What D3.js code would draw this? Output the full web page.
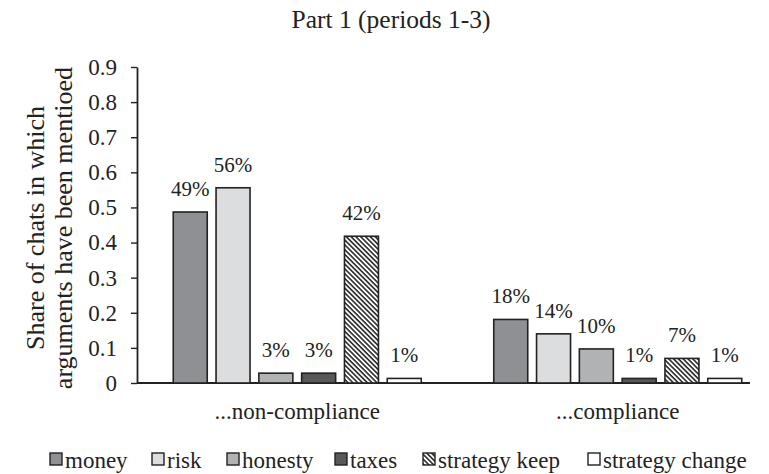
<!DOCTYPE html>
<html>
<head>
<meta charset="utf-8">
<script src="https://cdn.jsdelivr.net/npm/d3@7"></script>
<style>
  body { margin: 0; background: #fff; }
  text { font-family: "Liberation Serif", "Times New Roman", serif; fill: #222; }
</style>
</head>
<body>
<svg id="chart" width="769" height="474"></svg>
<script>
// categories and series
var groups = ["...non-compliance", "...compliance"];
var series = ["money", "risk", "honesty", "taxes", "strategy keep", "strategy change"];
var nonCompliance = [0.487, 0.556, 0.028, 0.028, 0.418, 0.013];
var compliance = [0.181, 0.140, 0.097, 0.013, 0.070, 0.013];
var valueLabels = [["49%", "56%", "3%", "3%", "42%", "1%"], ["18%", "14%", "10%", "1%", "7%", "1%"]];
var yTicks = [0, 0.1, 0.2, 0.3, 0.4, 0.5, 0.6, 0.7, 0.8, 0.9];
var fills = ["#8f9093", "#dcdddf", "#b1b2b4", "#58585a", "url(#hatch)", "#ffffff"];

var svg = d3.select("#chart");

//Diagonal hatch for "strategy keep"
var pat = svg.append("defs").append("pattern")
    .attr("id", "hatch")
    .attr("patternUnits", "userSpaceOnUse")
    .attr("width", 3.4).attr("height", 3.4)
    .attr("patternTransform", "rotate(45)");
pat.append("rect").attr("width", 3.4).attr("height", 3.4).attr("fill", "#fff");
pat.append("rect").attr("x", 0).attr("y", 0).attr("width", 3.4).attr("height", 1.6).attr("fill", "#2a2a2a");

var y = d3.scaleLinear().domain([0, 0.9]).range([383, 67]);
var x0 = d3.scaleBand().domain(groups).range([137, 778]);
var x1 = d3.scaleBand().domain(series).range([0, 248]).paddingInner(0.206);

var data = [nonCompliance, compliance];

//Title
svg.append("text")
    .attr("x", 391).attr("y", 28)
    .attr("text-anchor", "middle")
    .attr("font-size", 25.5)
    .text("Part 1 (periods 1-3)");

//Y axis
var yAxis = d3.axisLeft(y).tickValues(yTicks)
    .tickFormat(function(d) { return d === 0 ? "0" : d3.format(".1f")(d); })
    .tickSize(6).tickSizeOuter(0);
var ya = svg.append("g").attr("transform", "translate(137,0)").call(yAxis);
ya.select(".domain").attr("stroke", "#222").attr("stroke-width", 1.8);
ya.selectAll(".tick line").attr("stroke", "#222").attr("stroke-width", 1.4);
ya.selectAll(".tick text").attr("font-size", 23).attr("font-family", "Liberation Serif").attr("fill", "#222").attr("x", -20);

//X baseline
svg.append("line")
    .attr("x1", 137).attr("x2", 750)
    .attr("y1", y(0)).attr("y2", y(0))
    .attr("stroke", "#222").attr("stroke-width", 2);

//Y axis title (two lines)
var yt = svg.append("text")
    .attr("transform", "translate(44,228) rotate(-90)")
    .attr("text-anchor", "middle")
    .attr("font-size", 26);
yt.append("tspan").attr("x", 0).attr("dy", 0).text("Share of chats in which");
yt.append("tspan").attr("x", 0).attr("dy", 28).text("arguments have been mentioed");

//Bars
groups.forEach(function(g, gi) {
    var gx = x0(g) + (x0.bandwidth() - 248) / 2;
    var gg = svg.append("g").attr("transform", "translate(" + gx + ",0)");
    gg.selectAll("rect").data(data[gi]).enter().append("rect")
        .attr("x", function(d, i) { return x1(series[i]); })
        .attr("y", function(d) { return y(d); })
        .attr("width", x1.bandwidth())
        .attr("height", function(d) { return y(0) - y(d); })
        .attr("fill", function(d, i) { return fills[i]; })
        .attr("stroke", "#222")
        .attr("stroke-width", 1.6);
    gg.selectAll("text.val").data(data[gi]).enter().append("text")
        .attr("class", "val")
        .attr("x", function(d, i) { return x1(series[i]) + x1.bandwidth() / 2; })
        .attr("y", function(d) { return y(d) - 16; })
        .attr("text-anchor", "middle")
        .attr("font-size", 21)
        .text(function(d, i) { return valueLabels[gi][i]; });

    svg.append("text")
        .attr("x", x0(g) + x0.bandwidth() / 2)
        .attr("y", 419)
        .attr("text-anchor", "middle")
        .attr("font-size", 23)
        .text(g);
});

//Legend
var legX = [50, 152, 227, 335, 423, 588];
var leg = svg.append("g").selectAll("g").data(series).enter().append("g")
    .attr("transform", function(d, i) { return "translate(" + legX[i] + ",453)"; });
leg.append("rect")
    .attr("width", 12).attr("height", 12)
    .attr("fill", function(d, i) { return fills[i]; })
    .attr("stroke", "#222").attr("stroke-width", 1.4);
leg.append("text")
    .attr("x", 15).attr("y", 15)
    .attr("font-size", 23)
    .text(function(d) { return d; });
</script>
</body>
</html>
